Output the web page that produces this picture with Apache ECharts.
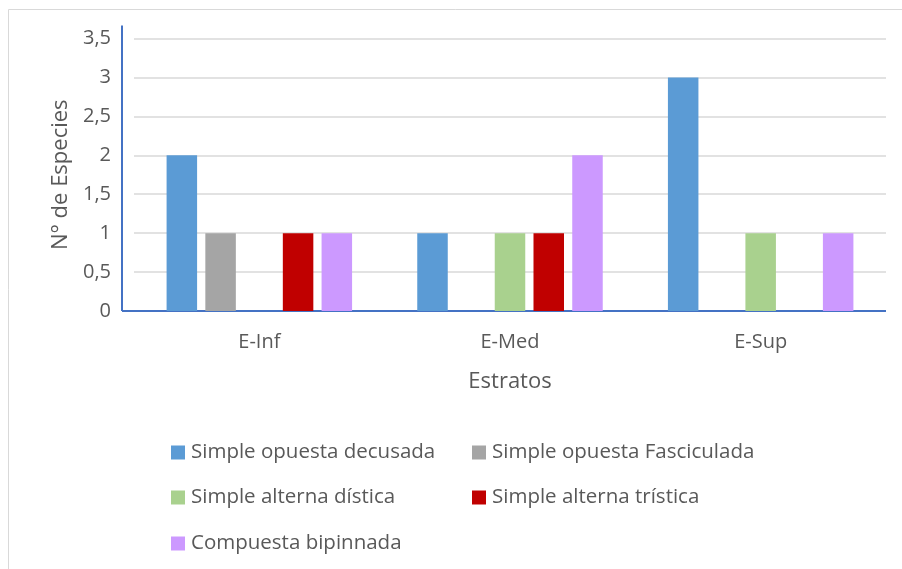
<!DOCTYPE html>
<html><head><meta charset="utf-8">
<script src="https://cdn.jsdelivr.net/npm/echarts@6/dist/echarts.min.js"></script>
<style>html,body{margin:0;padding:0;background:#fff}#c{width:902px;height:569px}</style>
</head><body><div id="c"></div>
<script>
const categories = ['E-Inf', 'E-Med', 'E-Sup'];
const seriesNames = ['Simple opuesta decusada', 'Simple opuesta Fasciculada', 'Simple alterna dística', 'Simple alterna trística', 'Compuesta bipinnada'];
const opuestaDecusada = [2, 1, 3];
const opuestaFasciculada = [1, 0, 0];
const alternaDistica = [0, 1, 1];
const alternaTristica = [1, 1, 0];
const compuestaBipinnada = [1, 2, 1];
const colors = ['#5B9BD5', '#A5A5A5', '#A9D18E', '#C00000', '#CC99FF'];
const yTicks = [0, 0.5, 1, 1.5, 2, 2.5, 3, 3.5];

const values = [opuestaDecusada, opuestaFasciculada, alternaDistica, alternaTristica, compuestaBipinnada];
const font = 'Open Sans';
const txt = '#595959';
const chart = echarts.init(document.getElementById('c'), null, {renderer: 'canvas'});
const legendPos = [[166, 437], [467, 437], [166, 482], [467, 482], [166, 528]];
const option = {
  animation: false,
  textStyle: {fontFamily: font},
  grid: {left: 134, right: 16, top: 38.5, bottom: 258},
  legend: seriesNames.map((n, i) => ({
    data: [n], left: legendPos[i][0], top: legendPos[i][1], itemWidth: 14, itemHeight: 14, itemGap: 0,
    icon: 'rect', selectedMode: false,
    textStyle: {fontFamily: font, fontSize: 20.5, color: txt, padding: [0, 0, 0, 1]}
  })),
  xAxis: {
    type: 'category', data: categories,
    name: 'Estratos', nameLocation: 'middle', nameGap: 60,
    nameTextStyle: {fontFamily: font, fontSize: 22, color: txt},
    axisLine: {show: false}, axisTick: {show: false},
    axisLabel: {fontFamily: font, fontSize: 20, color: txt, margin: 21}
  },
  yAxis: {
    type: 'value', min: yTicks[0], max: yTicks[yTicks.length - 1], interval: 0.5,
    name: 'N° de Especies', nameLocation: 'middle', nameGap: 61, nameRotate: 90,
    nameTextStyle: {fontFamily: font, fontSize: 22, color: txt},
    axisLine: {show: false}, axisTick: {show: false},
    axisLabel: {fontFamily: font, fontSize: 20, color: txt, margin: 23,
      formatter: v => String(v).replace('.', ',')},
    splitLine: {lineStyle: {color: '#D9D9D9', width: 1.5}}
  },
  series: seriesNames.map((n, i) => ({
    name: n, type: 'bar', data: values[i],
    barCategoryGap: '26%', barGap: '27%',
    itemStyle: {color: colors[i]}
  }))
};
chart.setOption(option);
const p0 = chart.convertToPixel({xAxisIndex: 0, yAxisIndex: 0}, [0, 0]);
const pTop = chart.convertToPixel({yAxisIndex: 0}, 3.5);
const y0 = p0[1];
const axisX = 122;
chart.setOption({
  graphic: [
    {type: 'polyline', shape: {points: [[8.5, 569], [8.5, 9.5], [902, 9.5]]}, style: {stroke: '#D9D9D9', fill: null, lineWidth: 1}},
    {type: 'line', shape: {x1: axisX, y1: pTop - 13, x2: axisX, y2: y0}, style: {stroke: '#4472C4', lineWidth: 2}},
    {type: 'line', shape: {x1: axisX, y1: y0, x2: 886, y2: y0}, style: {stroke: '#4472C4', lineWidth: 2}}
  ]
});
</script></body></html>
